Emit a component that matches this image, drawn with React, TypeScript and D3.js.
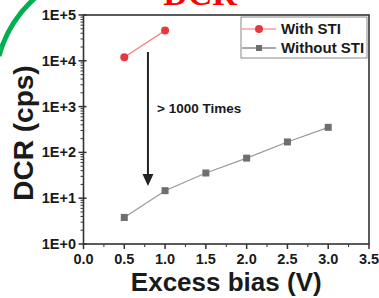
import React from "react";
import * as d3 from "d3";

const biasWith = [0.5, 1.0];
const dcrWith = [12000, 46000];
const biasWithout = [0.5, 1.0, 1.5, 2.0, 2.5, 3.0];
const dcrWithout = [3.8, 14.6, 35.5, 75, 169, 353];
const xTicks = [0, 0.5, 1, 1.5, 2, 2.5, 3, 3.5];
const xTickLabels = ["0.0", "0.5", "1.0", "1.5", "2.0", "2.5", "3.0", "3.5"];
const yTicks = [1, 10, 100, 1000, 10000, 100000];
const yTickLabels = ["1E+0", "1E+1", "1E+2", "1E+3", "1E+4", "1E+5"];
const seriesNames = ["With STI", "Without STI"];

const W = 379, H = 298;
const left = 83.5, right = 369, top = 15, bottom = 244;
const font = "'Liberation Sans', Arial, sans-serif";

export default function App() {
  const x = d3.scaleLinear().domain([0, 3.5]).range([left, right]);
  const y = d3.scaleLog().domain([1, 100000]).range([bottom, top]);
  const line = d3.line<[number, number]>().x(d => x(d[0])).y(d => y(d[1]));
  const withPts: [number, number][] = biasWith.map((b, i) => [b, dcrWith[i]]);
  const withoutPts: [number, number][] = biasWithout.map((b, i) => [b, dcrWithout[i]]);
  const minorY: number[] = [];
  for (let e = 0; e < 5; e++) for (let k = 2; k <= 9; k++) minorY.push(k * Math.pow(10, e));
  const minorX = d3.range(0.25, 3.5, 0.5);
  const axisColor = "#333";
  const arrowX = x(0.79);
  return (
    <svg width={W} height={H} style={{ position: "absolute", left: 0, top: 0, background: "#fff" }}>
      <path d="M 36 -3 Q 8 22 -1 56" fill="none" stroke="#00b050" strokeWidth={5} />
      <text x={200} y={5} textAnchor="middle" fontFamily="'Liberation Serif', 'Times New Roman', serif" fontWeight="bold" fontSize={34} fill="#ff0000">DCR</text>
      {/* frame */}
      <rect x={left} y={top} width={right - left} height={bottom - top} fill="none" stroke={axisColor} strokeWidth={1.6} />
      {/* y ticks */}
      {yTicks.map((t, i) => (
        <g key={"yt" + i}>
          <line x1={left - 5} x2={left + 3} y1={y(t)} y2={y(t)} stroke={axisColor} strokeWidth={1.5} />
          <text x={76} y={y(t) + 5} textAnchor="end" fontFamily={font} fontWeight="bold" fontSize={14.5} fill="#1a1a1a">{yTickLabels[i]}</text>
        </g>
      ))}
      {minorY.map((t, i) => (
        <line key={"ym" + i} x1={left - 3} x2={left} y1={y(t)} y2={y(t)} stroke={axisColor} strokeWidth={1} />
      ))}
      {/* x ticks */}
      {xTicks.map((t, i) => (
        <g key={"xt" + i}>
          <line x1={x(t)} x2={x(t)} y1={bottom} y2={bottom + 5} stroke={axisColor} strokeWidth={1.5} />
          <text x={x(t)} y={264} textAnchor="middle" fontFamily={font} fontWeight="bold" fontSize={14.5} fill="#1a1a1a">{xTickLabels[i]}</text>
        </g>
      ))}
      {minorX.map((t, i) => (
        <line key={"xm" + i} x1={x(t)} x2={x(t)} y1={bottom} y2={bottom + 3} stroke={axisColor} strokeWidth={1} />
      ))}
      {/* axis labels */}
      <text x={(left + right) / 2} y={291} textAnchor="middle" fontFamily={font} fontWeight="bold" fontSize={26} fill="#1a1a1a">Excess bias (V)</text>
      <text transform="translate(33,133) rotate(-90)" textAnchor="middle" fontFamily={font} fontWeight="bold" fontSize={28} fill="#1a1a1a">DCR (cps)</text>
      {/* series */}
      <path d={line(withPts) || ""} fill="none" stroke="#f07a7a" strokeWidth={1.2} />
      {withPts.map((p, i) => (
        <circle key={"w" + i} cx={x(p[0])} cy={y(p[1])} r={4} fill="#e8383d" />
      ))}
      <path d={line(withoutPts) || ""} fill="none" stroke="#999" strokeWidth={1.2} />
      {withoutPts.map((p, i) => (
        <rect key={"wo" + i} x={x(p[0]) - 3.5} y={y(p[1]) - 3.5} width={7} height={7} fill="#6e6e6e" />
      ))}
      {/* arrow */}
      <line x1={arrowX} x2={arrowX} y1={52} y2={177} stroke="#222" strokeWidth={2} />
      <path d={`M ${arrowX - 5.5} 174 L ${arrowX + 5.5} 174 L ${arrowX} 186 Z`} fill="#222" />
      <text x={157} y={113} fontFamily={font} fontWeight="bold" fontSize={13.5} fill="#1a1a1a">&gt; 1000 Times</text>
      {/* legend */}
      <rect x={241} y={17} width={126} height={41} fill="#fff" stroke="#888" strokeWidth={1} />
      <line x1={242} x2={276} y1={29} y2={29} stroke="#f4a0a0" strokeWidth={1.5} />
      <circle cx={259} cy={29} r={4} fill="#e8383d" />
      <text x={281} y={34} fontFamily={font} fontWeight="bold" fontSize={15} fill="#1a1a1a">{seriesNames[0]}</text>
      <line x1={242} x2={276} y1={48} y2={48} stroke="#555" strokeWidth={1} />
      <rect x={256} y={45} width={6} height={6} fill="#6e6e6e" />
      <text x={281} y={53} fontFamily={font} fontWeight="bold" fontSize={15} fill="#1a1a1a">{seriesNames[1]}</text>
    </svg>
  );
}
